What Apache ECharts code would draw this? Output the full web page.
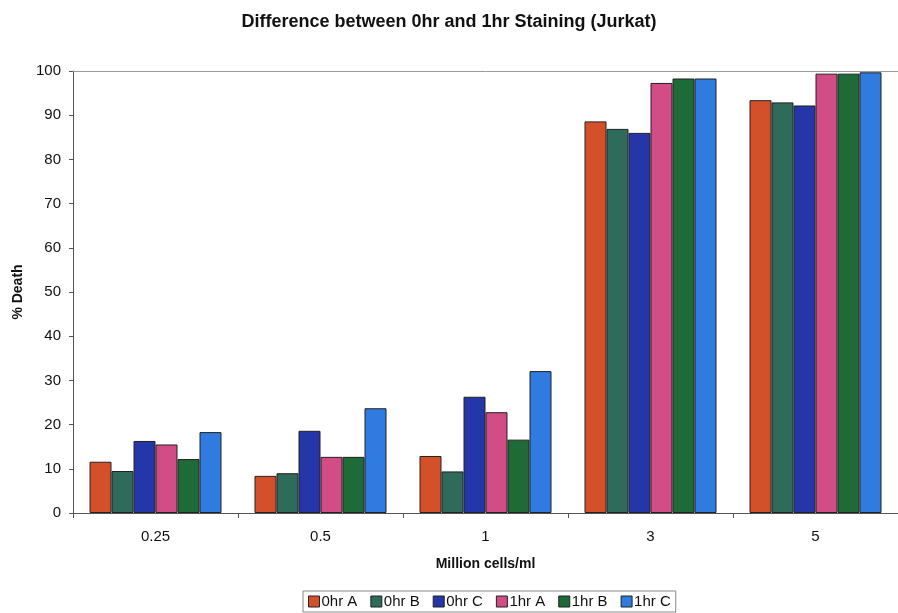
<!DOCTYPE html>
<html>
<head>
<meta charset="utf-8">
<script src="https://cdn.jsdelivr.net/npm/echarts@6/dist/echarts.min.js"></script>
<style>
html, body { margin: 0; padding: 0; background: #fff; }
#chart { width: 898px; height: 613px; }
</style>
</head>
<body>
<div id="chart"></div>
<script>
var categories = ['0.25', '0.5', '1', '3', '5'];
var seriesNames = ['0hr A', '0hr B', '0hr C', '1hr A', '1hr B', '1hr C'];
var hr0A = [11.6, 8.4, 12.9, 88.6, 93.4];
var hr0B = [9.5, 9.0, 9.4, 86.9, 92.9];
var hr0C = [16.3, 18.6, 26.3, 86.0, 92.2];
var hr1A = [15.5, 12.7, 22.8, 97.3, 99.4];
var hr1B = [12.2, 12.7, 16.6, 98.3, 99.4];
var hr1C = [18.3, 23.7, 32.1, 98.3, 99.7];
var colors = ['#d4502a', '#2e6b5a', '#2536a8', '#d24d86', '#1e6b38', '#2f7be0'];

var allData = [hr0A, hr0B, hr0C, hr1A, hr1B, hr1C];
var font = 'Liberation Sans, Arial, sans-serif';

var myChart = echarts.init(document.getElementById('chart'));
myChart.setOption({
	animation: false,
	title: {
		text: 'Difference between 0hr and 1hr Staining (Jurkat)',
		left: 'center',
		top: 8,
		textStyle: { fontFamily: font, fontSize: 18, fontWeight: 'bold', color: '#111' }
	},
	legend: {
		bottom: 1,
		left: 303,
		itemWidth: 11,
		itemHeight: 11,
		itemGap: 13,
		padding: [3, 5],
		borderColor: '#888',
		borderWidth: 1,
		textStyle: { fontFamily: font, fontSize: 15, color: '#111', padding: [0, 0, 0, -3] },
		data: seriesNames.map(function(n) {
			return { name: n, icon: 'rect', itemStyle: { borderColor: '#222', borderWidth: 1 } };
		})
	},
	grid: { left: 73, right: 0, top: 71, bottom: 100 },
	xAxis: {
		type: 'category',
		data: categories,
		name: 'Million cells/ml',
		nameLocation: 'middle',
		nameGap: 44,
		nameTextStyle: { fontFamily: font, fontSize: 14, fontWeight: 'bold', color: '#111' },
		axisLine: { lineStyle: { color: '#555' } },
		axisTick: { show: true, length: 5, lineStyle: { color: '#555' } },
		axisLabel: { fontFamily: font, fontSize: 15, color: '#111', margin: 16 }
	},
	yAxis: {
		type: 'value',
		min: 0,
		max: 100,
		interval: 10,
		name: '% Death',
		nameLocation: 'middle',
		nameGap: 48,
		nameTextStyle: { fontFamily: font, fontSize: 14, fontWeight: 'bold', color: '#111' },
		axisLine: { show: true, lineStyle: { color: '#555' } },
		axisTick: { show: true, length: 4, lineStyle: { color: '#555' } },
		axisLabel: { fontFamily: font, fontSize: 15, color: '#111', margin: 12 },
		splitLine: { show: false }
	},
	series: seriesNames.map(function(n, i) {
		return {
			name: n,
			type: 'bar',
			data: allData[i],
			barGap: '0%',
			barCategoryGap: '20%',
			itemStyle: { color: colors[i], borderColor: '#222', borderWidth: 1 }
		};
	}).concat([{
		type: 'line',
		data: [],
		markLine: {
			silent: true,
			symbol: 'none',
			label: { show: false },
			lineStyle: { color: '#999', type: 'solid', width: 1 },
			data: [{ yAxis: 100 }]
		}
	}])
});
</script>
</body>
</html>
